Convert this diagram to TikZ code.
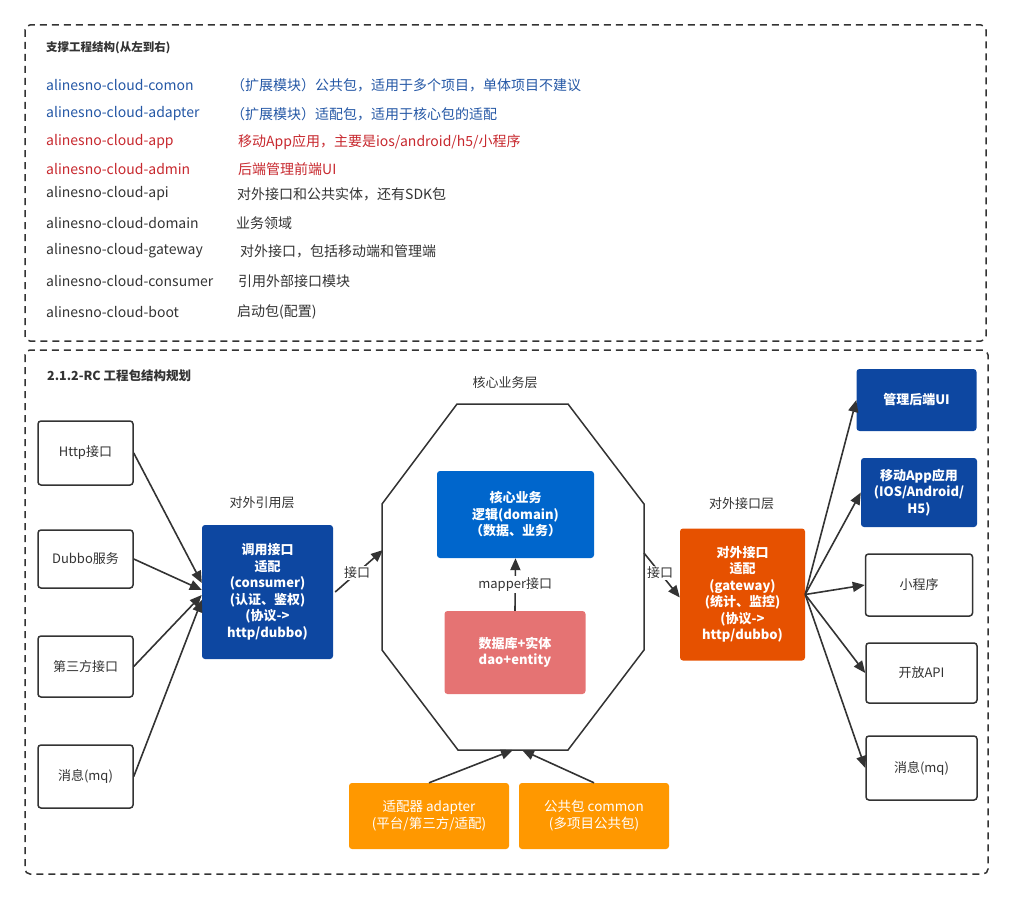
\documentclass[tikz,border=0pt]{standalone}
\usepackage{fontspec}
\setmainfont{Noto Sans CJK SC}
\usetikzlibrary{arrows.meta}
\definecolor{ink}{HTML}{333333}
\definecolor{tblue}{HTML}{2457A5}
\definecolor{tred}{HTML}{C7282E}
\definecolor{navy}{HTML}{0D47A1}
\definecolor{mblue}{HTML}{0066CC}
\definecolor{rose}{HTML}{E57373}
\definecolor{dorange}{HTML}{E65100}
\definecolor{lorange}{HTML}{FF9800}
\begin{document}
\begin{tikzpicture}[x=1pt,y=-1pt,
  frame/.style={draw=ink, line width=1.5pt, dash pattern=on 7pt off 5pt, rounded corners=5pt},
  txt/.style={inner sep=0pt, anchor=west, text=ink, font=\fontsize{14}{16}\selectfont},
  hd/.style={inner sep=0pt, anchor=west, text=ink, font=\fontsize{12.5}{15}\selectfont\bfseries},
  lbl/.style={inner sep=1pt, text=ink, font=\fontsize{13}{15}\selectfont},
  wbox/.style={draw=ink, line width=1.5pt, rounded corners=3pt, fill=white, text=ink,
    align=center, font=\fontsize{13}{16}\selectfont, inner sep=0pt},
  cbox/.style={rounded corners=3pt, text=white, align=center,
    font=\fontsize{13}{16.5}\selectfont\bfseries, inner sep=0pt},
  arr/.style={draw=ink, line width=1.6pt, -{Triangle[length=12pt,width=10pt]}},
  oct/.style={draw=ink, line width=1.5pt}
]
\useasboundingbox (0,0) rectangle (1013,899);

% ---------- top frame ----------
\draw[frame] (25,25) rectangle (986,341);
\node[hd, font=\fontsize{11.5}{14}\selectfont\bfseries] (t1) at (46,48) {支撑工程结构(从左到右)};
\node[txt, text=tblue] (a1) at (46,85) {alinesno-cloud-comon};
\node[txt, text=tblue] (b1) at (231,85) {（扩展模块）公共包，适用于多个项目，单体项目不建议};
\node[txt, text=tblue] (a2) at (46,114) {alinesno-cloud-adapter};
\node[txt, text=tblue] (b2) at (231,114) {（扩展模块）适配包，适用于核心包的适配};
\node[txt, text=tred] (a3) at (46,142) {alinesno-cloud-app};
\node[txt, text=tred] (b3) at (238,142) {移动App应用，主要是ios/android/h5/小程序};
\node[txt, text=tred] (a4) at (46,169) {alinesno-cloud-admin};
\node[txt, text=tred] (b4) at (238,169) {后端管理前端UI};
\node[txt] (a5) at (46,194) {alinesno-cloud-api};
\node[txt] (b5) at (237,194) {对外接口和公共实体，还有SDK包};
\node[txt] (a6) at (46,223) {alinesno-cloud-domain};
\node[txt] (b6) at (236,223) {业务领域};
\node[txt] (a7) at (46,251) {alinesno-cloud-gateway};
\node[txt] (b7) at (240,251) {对外接口，包括移动端和管理端};
\node[txt] (a8) at (46,281) {alinesno-cloud-consumer};
\node[txt] (b8) at (238,281) {引用外部接口模块};
\node[txt] (a9) at (46,312) {alinesno-cloud-boot};
\node[txt] (b9) at (237,312) {启动包(配置)};

% ---------- bottom frame ----------
\draw[frame] (25,350) rectangle (988,874);
\node[hd] (t2) at (47,376) {2.1.2-RC 工程包结构规划};

% left boxes
\node[wbox, minimum width=95pt, minimum height=64pt] (http) at (85.5,453) {Http接口};
\node[wbox, minimum width=95pt, minimum height=58pt] (dubbo) at (85.5,559) {Dubbo服务};
\node[wbox, minimum width=95pt, minimum height=61pt] (third) at (85.5,666.5) {第三方接口};
\node[wbox, minimum width=95pt, minimum height=63pt] (mqin) at (85.5,776.5) {消息(mq)};

% consumer
\node[lbl] (lref) at (262,503) {对外引用层};
\node[cbox, fill=navy, minimum width=131pt, minimum height=134pt] (cons) at (267.5,592)
  {调用接口\\适配\\(consumer)\\(认证、鉴权)\\(协议->\\http/dubbo)};

% octagon
\node[lbl] (lcore) at (505,383) {核心业务层};
\coordinate (o1) at (457,404);
\coordinate (o2) at (568,404);
\coordinate (o3) at (644,504);
\coordinate (o4) at (644,650);
\coordinate (o5) at (568,750);
\coordinate (o6) at (458,750);
\coordinate (o7) at (382,650);
\coordinate (o8) at (382,504);
\draw[oct] (o1) -- (o2) -- (o3) -- (o4) -- (o5) -- (o6) -- (o7) -- (o8) -- cycle;
\coordinate (octL) at (383,550);
\coordinate (octR) at (644,553);
\coordinate (octB1) at (513,750);
\coordinate (octB2) at (522,750);

\node[cbox, fill=mblue, minimum width=157pt, minimum height=87pt] (dom) at (515.5,514.5)
  {核心业务\\逻辑(domain)\\（数据、业务）};
\node[cbox, fill=rose, minimum width=141pt, minimum height=83pt] (db) at (515,652.5)
  {数据库+实体\\dao+entity};

% gateway
\node[lbl] (lout) at (741.5,504) {对外接口层};
\node[cbox, fill=dorange, minimum width=125pt, minimum height=132pt] (gw) at (742.5,594.5)
  {对外接口\\适配\\(gateway)\\(统计、监控)\\(协议->\\http/dubbo)};

% right boxes
\node[cbox, fill=navy, minimum width=120pt, minimum height=62pt] (ui) at (916.5,400) {管理后端UI};
\node[cbox, fill=navy, minimum width=116pt, minimum height=69pt] (app) at (919,492.5)
  {移动App应用\\(IOS/Android/\\H5)};
\node[wbox, minimum width=107pt, minimum height=62pt] (mini) at (919,585) {小程序};
\node[wbox, minimum width=111pt, minimum height=60pt] (api) at (921.5,673) {开放API};
\node[wbox, minimum width=111pt, minimum height=64pt] (mqout) at (921.5,768) {消息(mq)};

% bottom boxes
\node[cbox, fill=lorange, minimum width=160pt, minimum height=66pt, font=\fontsize{13.5}{17}\selectfont] (adp) at (429,816)
  {适配器 adapter\\(平台/第三方/适配)};
\node[cbox, fill=lorange, minimum width=150pt, minimum height=66pt, font=\fontsize{13.5}{17}\selectfont] (com) at (594,816)
  {公共包 common\\(多项目公共包)};

% ---------- connectors ----------
\draw[arr] (http.east) -- ([yshift=9pt]cons.west);
\draw[arr] (dubbo.east) -- ([yshift=2pt]cons.west);
\draw[arr] (third.east) -- ([yshift=-3pt]cons.west);
\draw[arr] (mqin.east) -- ([yshift=-8pt]cons.west);

\draw[arr] ([xshift=2pt]cons.east) -- (octL) node[lbl, midway, fill=white, xshift=-2pt, yshift=-2pt] {接口};
\draw[arr] (octR) -- ([yshift=-3pt]gw.west) node[lbl, pos=0.45, fill=white] {接口};
\draw[arr] (db.north) -- (dom.south) node[lbl, midway, fill=white, inner sep=2pt] {mapper接口};

\draw[arr] (gw.east) -- (ui.west);
\draw[arr] (gw.east) -- (app.west);
\draw[arr] (gw.east) -- (mini.west);
\draw[arr] (gw.east) -- (api.west);
\draw[arr] (gw.east) -- (mqout.west);

\draw[arr] (adp.north) -- (octB1);
\draw[arr] (com.north) -- (octB2);
\end{tikzpicture}
\end{document}
